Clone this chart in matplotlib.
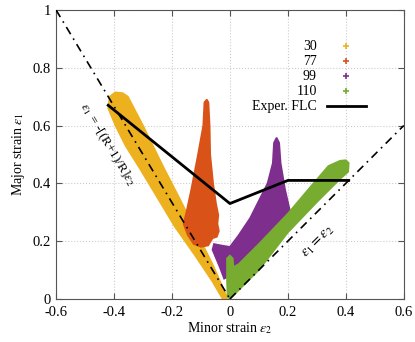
import numpy as np
import matplotlib
matplotlib.use('Agg')
from matplotlib import pyplot as plt

plt.rcParams['font.family'] = ['Liberation Serif', 'DejaVu Serif']
plt.rcParams['mathtext.fontset'] = 'stix'

# outlines of the point clouds (minor strain, major strain)
r30_e2 = [-0.42, -0.415, -0.395, -0.37, -0.352, -0.30, -0.23, -0.175, -0.11, -0.06,
          -0.025, -0.008, -0.025, -0.06, -0.12, -0.19, -0.25, -0.31, -0.36, -0.395]
r30_e1 = [0.66, 0.70, 0.715, 0.712, 0.70, 0.60, 0.457, 0.35, 0.22, 0.12,
          0.04, 0.0, 0.0, 0.06, 0.15, 0.25, 0.35, 0.45, 0.53, 0.60]

r77_e2 = [-0.080, -0.074, -0.070, -0.068, -0.058, -0.048, -0.040, -0.043, -0.038, -0.045,
          -0.06, -0.075, -0.10, -0.125, -0.145, -0.16, -0.150, -0.133, -0.110, -0.092, -0.088]
r77_e1 = [0.690, 0.68, 0.60, 0.50, 0.40, 0.33, 0.29, 0.26, 0.235, 0.215,
          0.21, 0.185, 0.18, 0.19, 0.22, 0.26, 0.30, 0.38, 0.50, 0.60, 0.68]

r99_e2 = [0.161, 0.170, 0.175, 0.19, 0.215, 0.16, 0.10, 0.05, 0.02, 0.0, -0.02,
          -0.035, -0.06, -0.055, -0.03, 0.0, 0.03, 0.07, 0.10, 0.13, 0.148, 0.152]
r99_e1 = [0.558, 0.54, 0.47, 0.38, 0.27, 0.21, 0.16, 0.12, 0.10, 0.08, 0.07,
          0.11, 0.17, 0.19, 0.185, 0.18, 0.22, 0.28, 0.34, 0.40, 0.47, 0.54]

r110_e2 = [0.0, 0.02, 0.10, 0.20, 0.30, 0.38, 0.408, 0.41, 0.40, 0.38, 0.34, 0.28,
           0.20, 0.10, 0.03, 0.012, 0.01, 0.0, -0.01, -0.01, -0.008]
r110_e1 = [0.0, 0.02, 0.10, 0.23, 0.335, 0.415, 0.44, 0.47, 0.48, 0.478, 0.46, 0.39,
           0.295, 0.19, 0.12, 0.11, 0.14, 0.15, 0.14, 0.06, 0.01]

flc_e2 = [-0.42, 0.0, 0.2, 0.41]
flc_e1 = [0.67, 0.33, 0.41, 0.41]

# limit lines
R = 1.5
left_e2 = np.array([-0.6, 0.0])
right_e2 = np.array([0.0, 0.6])

labels = ['30', '77', '99', '110']
colors = ['#EDB120', '#D95319', '#7E2F8E', '#77AC30']
clouds = [(r30_e2, r30_e1), (r77_e2, r77_e1), (r99_e2, r99_e1), (r110_e2, r110_e1)]

fig = plt.figure(figsize=(4.15, 3.42), dpi=100)
ax = fig.add_axes([0.135, 0.126, 0.838, 0.845])

for (xs, ys), c in zip(clouds, colors):
    ax.fill(xs, ys, color=c, lw=1.2, ec=c, zorder=2)

ax.plot(left_e2, -(R + 1) / R * left_e2, color='k', lw=1.2,
        dashes=(5, 3, 1, 3), zorder=3)
ax.plot(right_e2, right_e2, color='k', lw=1.2, dashes=(5, 3, 1, 3), zorder=3)
ax.plot(flc_e2, flc_e1, color='k', lw=2, zorder=4)

ax.text(-0.424, 0.535, r'$\varepsilon_1$ = -[(R+1)/R]$\varepsilon_2$', rotation=-59,
        ha='center', va='center', fontsize=9.5)
ax.text(0.305, 0.197, r'$\varepsilon_1 = \varepsilon_2$', rotation=45,
        ha='center', va='center', fontsize=10.5)

# key, gnuplot style
ys_key = [0.875, 0.823, 0.771, 0.719, 0.667]
for lab, c, yk in zip(labels, colors, ys_key):
    ax.text(0.75, yk, lab, transform=ax.transAxes, ha='right', va='center', fontsize=10)
    ax.plot([0.833], [yk], '+', color=c, ms=4, mew=1.2, transform=ax.transAxes)
ax.text(0.75, ys_key[4], 'Exper. FLC', transform=ax.transAxes, ha='right', va='center',
        fontsize=10)
ax.plot([0.779, 0.891], [ys_key[4]] * 2, color='k', lw=2, transform=ax.transAxes)

ax.set_xlim(-0.6, 0.6)
ax.set_ylim(0, 1)
ax.set_xticks([-0.6, -0.4, -0.2, 0, 0.2, 0.4, 0.6])
ax.set_xticklabels(['-0.6', '-0.4', '-0.2', '0', '0.2', '0.4', '0.6'])
ax.set_yticks([0, 0.2, 0.4, 0.6, 0.8, 1])
ax.set_yticklabels(['0', '0.2', '0.4', '0.6', '0.8', '1'])
ax.tick_params(direction='in', top=True, right=True, length=4, labelsize=10.5,
               color='#555555')
ax.tick_params(axis='x', pad=5)
ax.grid(True, color='#cccccc', ls=':', lw=0.8)
ax.set_axisbelow(True)
for s in ax.spines.values():
    s.set_color('#555555')

ax.set_xlabel(r'Minor strain $\varepsilon_2$', fontsize=10, labelpad=1)
ax.set_ylabel(r'Major strain $\varepsilon_1$', fontsize=10, labelpad=4)

fig.savefig('out.png', dpi=100)
